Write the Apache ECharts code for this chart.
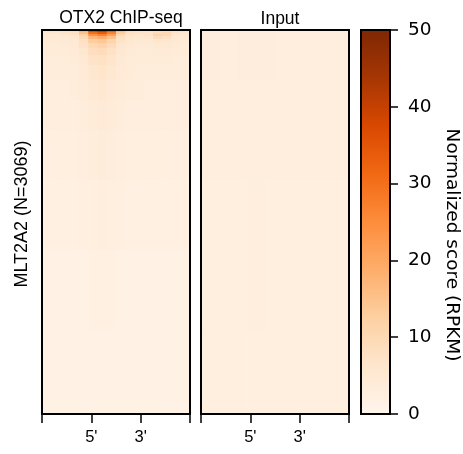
<!DOCTYPE html>
<html style="height: 100%">
<head>
<meta charset="utf-8">
</head>
<body style="height: 100%; margin: 0; background: #fff">
<div id="container" style="width: 463px; height: 454px"></div>
<script src="https://cdn.jsdelivr.net/npm/echarts@6/dist/echarts.min.js"></script>
<script>
// regions sorted by signal, N=3069; 16 bins from 5' flank to 3' flank
var nRegions = 3069;
var nBins = 16;
var panelTitles = ['OTX2 ChIP-seq', 'Input'];
var binTickLabels = ["5'", "3'"];
var colorbarTicks = [0, 10, 20, 30, 40, 50];

// row band edges (region index) and RPKM per bin, ChIP-seq
var chipEdges = [0, 16, 32, 48, 72, 104, 144, 200, 280, 400, 560, 800, 1200, 1760, 2400, 3069];
var chipRows = [
    [7, 7, 8, 9, 18, 36, 40, 32, 16, 9, 8, 8, 9, 9, 8, 7],
    [6, 6, 7, 8, 15, 30, 34, 27, 13, 8, 7, 7, 9, 10, 7, 6],
    [5, 5, 6, 7, 12, 24, 27, 21, 10, 7, 6, 7, 11, 10, 6, 5],
    [5, 5, 5, 6, 10, 17, 19, 15, 8, 6, 6, 6, 9, 8, 5, 5],
    [4.5, 4.5, 5, 5, 8, 13, 14, 11, 7, 5.5, 5, 5, 6, 6, 5, 4.5],
    [4, 4, 4.5, 5, 7, 10, 11, 9, 6, 5, 4.5, 4.5, 5, 5, 4.5, 4],
    [4, 4, 4, 4.5, 6, 8.5, 9, 7.5, 5.5, 4.5, 4, 4, 4.5, 4.5, 4, 4],
    [3.5, 3.5, 3.5, 4, 5, 7, 7.5, 6.5, 5, 4, 4, 4, 4, 4, 3.5, 3.5],
    [3.5, 3.5, 3.5, 3.5, 4.5, 6, 6.5, 5.5, 4.5, 4, 3.5, 3.5, 3.5, 3.5, 3.5, 3.5],
    [3, 3, 3, 3.5, 4, 5, 5.5, 4.5, 4, 3.5, 3.5, 3, 3, 3, 3, 3],
    [2.8, 2.8, 2.8, 3, 3.5, 4.2, 4.5, 4, 3.5, 3, 3, 2.8, 2.8, 2.8, 2.8, 2.8],
    [2.4, 2.4, 2.5, 2.6, 3, 3.4, 3.6, 3.3, 3, 2.7, 2.6, 2.5, 2.5, 2.5, 2.4, 2.4],
    [2, 2, 2, 2.2, 2.4, 2.7, 2.8, 2.6, 2.4, 2.2, 2.1, 2, 2, 2, 2, 2],
    [1.6, 1.6, 1.6, 1.7, 1.8, 2, 2.1, 2, 1.8, 1.7, 1.6, 1.6, 1.6, 1.6, 1.6, 1.6],
    [1.3, 1.3, 1.3, 1.3, 1.4, 1.5, 1.5, 1.5, 1.4, 1.3, 1.3, 1.3, 1.3, 1.3, 1.3, 1.3]
];

// Input
var inputEdges = [0, 400, 1200, 2400, 3069];
var inputRows = [
    [3.2, 3.2, 3.1, 3.1, 3.2, 3.3, 3.3, 3.2, 3.1, 3.1, 3.1, 3.0, 3.0, 3.0, 3.0, 3.0],
    [2.9, 2.9, 2.9, 2.9, 3.0, 3.0, 3.0, 3.0, 2.9, 2.9, 2.9, 2.8, 2.8, 2.8, 2.8, 2.8],
    [2.7, 2.7, 2.7, 2.7, 2.7, 2.8, 2.8, 2.7, 2.7, 2.7, 2.7, 2.6, 2.6, 2.6, 2.6, 2.6],
    [2.5, 2.5, 2.5, 2.5, 2.5, 2.6, 2.6, 2.5, 2.5, 2.5, 2.5, 2.5, 2.5, 2.5, 2.5, 2.5]
];

var oranges = ['#fff5eb', '#fee6ce', '#fdd0a2', '#fdae6b', '#fd8d3c', '#f16913', '#d94801', '#a63603', '#7f2704'];

function toCells(edges, rows) {
    var out = [];
    rows.forEach(function (row, b) {
        row.forEach(function (v, c) {
            out.push([c, edges[b], edges[b + 1], v]);
        });
    });
    return out;
}

function renderCell(params, api) {
    var p0 = api.coord([api.value(0), api.value(1)]);
    var p1 = api.coord([api.value(0) + 1, api.value(2)]);
    return {
        type: 'rect',
        shape: {
            x: p0[0],
            y: Math.min(p0[1], p1[1]),
            width: p1[0] - p0[0] + 0.6,
            height: Math.abs(p1[1] - p0[1]) + 0.6
        },
        style: { fill: api.visual('color') }
    };
}

var font = 'Liberation Sans, Arial, sans-serif';
var cbFont = 'DejaVu Sans, sans-serif';
var third = nBins / 3;

function heatX(idx) {
    return {
        type: 'value', gridIndex: idx, min: 0, max: nBins,
        axisLine: { show: true, onZero: false, lineStyle: { color: '#000', width: 2 } },
        axisTick: { show: true, length: 9, lineStyle: { color: '#000', width: 1.5 },
            customValues: [0, third, 2 * third, nBins] },
        axisLabel: { show: true, margin: 15, fontSize: 16.5, color: '#000', fontFamily: font,
            customValues: [third, 2 * third],
            formatter: function (v) { return v < nBins / 2 ? binTickLabels[0] : binTickLabels[1]; } },
        splitLine: { show: false }
    };
}

function heatY(idx, name) {
    return {
        type: 'value', gridIndex: idx, min: 0, max: nRegions, inverse: true,
        name: name, nameLocation: 'middle', nameGap: 11,
        nameTextStyle: { fontSize: 18, color: '#000', fontFamily: font, padding: [0, 0, 0, 16] },
        axisLine: { show: false }, axisTick: { show: false },
        axisLabel: { show: false }, splitLine: { show: false }
    };
}

var grids = [
    { left: 42, top: 30, width: 148, height: 384 },
    { left: 201, top: 30, width: 148, height: 384 },
    { left: 361, top: 30, width: 29, height: 384 }
];
grids.forEach(function (g) {
    g.show = true; g.z = 10; g.borderColor = '#000'; g.borderWidth = 2; g.backgroundColor = 'transparent';
});

var myChart = echarts.init(document.getElementById('container'));
var option = {
    animation: false,
    backgroundColor: '#fff',
    title: [
        { text: panelTitles[0], left: 116, top: 4, textAlign: 'center',
          textStyle: { fontSize: 17.5, fontWeight: 'normal', color: '#000', fontFamily: font } },
        { text: panelTitles[1], left: 275, top: 5, textAlign: 'center',
          textStyle: { fontSize: 17.5, fontWeight: 'normal', color: '#000', fontFamily: font } }
    ],
    grid: grids,
    visualMap: {
        type: 'continuous', show: false, min: 0, max: 50, dimension: 3,
        seriesIndex: [0, 1], inRange: { color: oranges }
    },
    xAxis: [
        heatX(0),
        heatX(1),
        { type: 'category', gridIndex: 2, data: ['cb'], show: false }
    ],
    yAxis: [
        heatY(0, 'MLT2A2 (N=' + nRegions + ')'),
        heatY(1, ''),
        { type: 'value', gridIndex: 2, position: 'right', min: colorbarTicks[0],
          max: colorbarTicks[colorbarTicks.length - 1], interval: 10,
          name: 'Normalized score (RPKM)', nameLocation: 'middle', nameGap: 52, nameRotate: -90,
          nameTextStyle: { fontSize: 18.5, color: '#000', fontFamily: cbFont, padding: [0, 0, 0, 46] },
          axisLine: { show: true, lineStyle: { color: '#000', width: 2 } },
          axisTick: { show: true, length: 8, lineStyle: { color: '#000', width: 1.5 } },
          axisLabel: { fontSize: 18.5, margin: 18, color: '#000', fontFamily: cbFont },
          splitLine: { show: false } }
    ],
    series: [
        { type: 'custom', xAxisIndex: 0, yAxisIndex: 0, renderItem: renderCell,
          encode: { x: 0, y: [1, 2] }, data: toCells(chipEdges, chipRows) },
        { type: 'custom', xAxisIndex: 1, yAxisIndex: 1, renderItem: renderCell,
          encode: { x: 0, y: [1, 2] }, data: toCells(inputEdges, inputRows) },
        { type: 'bar', xAxisIndex: 2, yAxisIndex: 2, barWidth: '100%', silent: true,
          data: [colorbarTicks[colorbarTicks.length - 1]],
          itemStyle: { color: new echarts.graphic.LinearGradient(0, 1, 0, 0,
              oranges.map(function (c, i) { return { offset: i / (oranges.length - 1), color: c }; })) } }
    ]
};
myChart.setOption(option);
</script>
</body>
</html>
